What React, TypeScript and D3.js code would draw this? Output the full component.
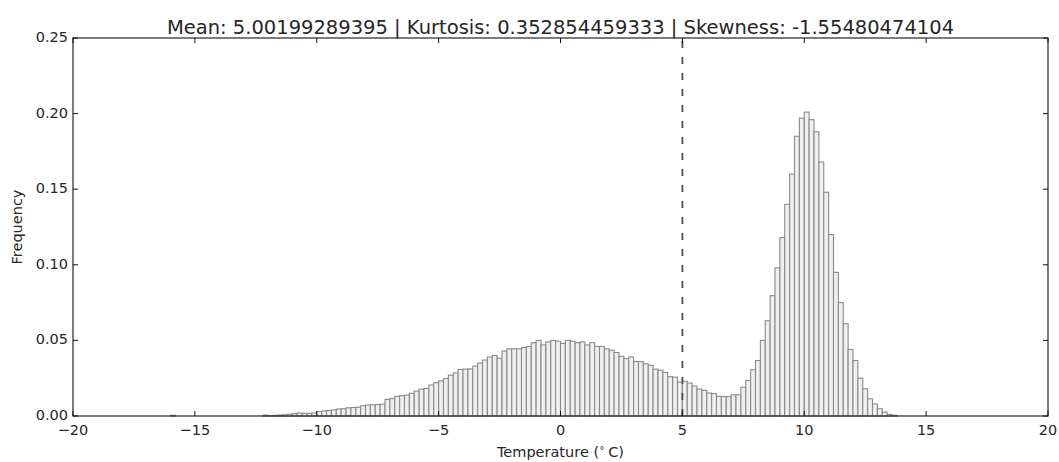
import React from "react";
import * as d3 from "d3";

// Histogram of temperatures: normalised frequency per 0.2 °C bin, starting at -16 °C
const BIN_START = -16.0;
const BIN_WIDTH = 0.2;
const frequency: number[] = [
  // -16.0 .. -14.2
  0.0005, 0, 0, 0, 0, 0, 0, 0, 0, 0,
  // -14.0 .. -12.2
  0, 0, 0, 0, 0, 0, 0, 0, 0, 0.0006,
  // -12.0 .. -10.2
  0.0002, 0.0004, 0.0006, 0.0008, 0.0012, 0.0016, 0.002, 0.0018, 0.0017, 0.002,
  // -10.0 .. -8.2
  0.003, 0.0033, 0.0036, 0.004, 0.0046, 0.0048, 0.0054, 0.0056, 0.0058, 0.0068,
  // -8.0 .. -6.2
  0.0072, 0.0074, 0.0076, 0.0078, 0.011, 0.0116, 0.013, 0.0134, 0.0138, 0.015,
  // -6.0 .. -4.2
  0.0165, 0.0178, 0.0182, 0.0205, 0.022, 0.0232, 0.0248, 0.027, 0.0285, 0.0308,
  // -4.0 .. -2.2
  0.031, 0.0311, 0.033, 0.035, 0.037, 0.039, 0.04, 0.0382, 0.043, 0.0444,
  // -2.0 .. -0.2
  0.0445, 0.0444, 0.0453, 0.046, 0.0484, 0.05, 0.047, 0.049, 0.05, 0.0495,
  // 0.0 .. 1.8
  0.048, 0.05, 0.0495, 0.0485, 0.049, 0.047, 0.0485, 0.046, 0.046, 0.0444,
  // 2.0 .. 3.8
  0.0435, 0.042, 0.0395, 0.038, 0.039, 0.036, 0.036, 0.0345, 0.0335, 0.031,
  // 4.0 .. 5.8
  0.0303, 0.0288, 0.026, 0.0257, 0.0224, 0.023, 0.0218, 0.0198, 0.0178, 0.017,
  // 6.0 .. 7.8
  0.0152, 0.0148, 0.013, 0.0128, 0.0128, 0.014, 0.014, 0.019, 0.0235, 0.0306,
  // 8.0 .. 9.8
  0.0367, 0.05, 0.063, 0.0796, 0.098, 0.118, 0.14, 0.16, 0.185, 0.197,
  // 10.0 .. 11.8
  0.201, 0.196, 0.188, 0.168, 0.148, 0.12, 0.095, 0.075, 0.061, 0.044,
  // 12.0 .. 13.8
  0.0367, 0.025, 0.018, 0.0114, 0.008, 0.0048, 0.0026, 0.0011, 0.0005, 0,
];

const meanValue = 5.00199289395;
const kurtosisValue = "0.352854459333";
const skewnessValue = "-1.55480474104";
const meanLabel = "5.00199289395";

const X_TICKS = [-20, -15, -10, -5, 0, 5, 10, 15, 20];
const Y_TICKS = [0, 0.05, 0.1, 0.15, 0.2, 0.25];

const X_LABEL = "Temperature (";
const Y_LABEL = "Frequency";

const WIDTH = 1059;
const HEIGHT = 462;
const margin = { left: 73, right: 11, top: 38, bottom: 46 };
const FONT = "'DejaVu Sans', 'Liberation Sans', sans-serif";
const TEXT = "#262626";

export default function App() {
  const x = d3
    .scaleLinear()
    .domain([-20, 20])
    .range([margin.left, WIDTH - margin.right]);
  const y = d3
    .scaleLinear()
    .domain([0, 0.25])
    .range([HEIGHT - margin.bottom, margin.top]);

  const x0 = x.range()[0];
  const x1 = x.range()[1];
  const yBottom = y.range()[0];
  const yTop = y.range()[1];
  const tickLen = 5;

  const fmtX = (v: number) => (v < 0 ? "\u2212" + Math.abs(v) : String(v));
  const fmtY = d3.format(".2f");

  const bins = frequency
    .map((f, i) => ({ left: BIN_START + i * BIN_WIDTH, f }))
    .filter((b) => b.f > 0);

  return (
    <svg
      width={WIDTH}
      height={HEIGHT}
      style={{ position: "absolute", left: 0, top: 0, background: "#fff" }}
      fontFamily={FONT}
    >
      <rect x={0} y={0} width={WIDTH} height={HEIGHT} fill="#fff" />

      {/* histogram bars */}
      <g>
        {bins.map((b, i) => {
          const bx = x(b.left);
          const bw = x(b.left + BIN_WIDTH) - bx;
          const by = y(b.f);
          return (
            <rect
              key={i}
              x={bx}
              y={by}
              width={bw}
              height={yBottom - by}
              fill="#efefef"
              stroke="#8a8a8a"
              strokeWidth={1.1}
            />
          );
        })}
      </g>

      {/* mean marker */}
      <line
        x1={x(meanValue)}
        x2={x(meanValue)}
        y1={yBottom}
        y2={yTop}
        stroke="#4d4d4d"
        strokeWidth={1.8}
        strokeDasharray="7,9"
      />

      {/* frame */}
      <rect
        x={x0}
        y={yTop}
        width={x1 - x0}
        height={yBottom - yTop}
        fill="none"
        stroke="#111"
        strokeWidth={1.1}
      />

      {/* x ticks, inward on bottom and top */}
      <g stroke="#111" strokeWidth={1}>
        {X_TICKS.map((t) => (
          <g key={"xt" + t}>
            <line x1={x(t)} x2={x(t)} y1={yBottom} y2={yBottom - tickLen} />
            <line x1={x(t)} x2={x(t)} y1={yTop} y2={yTop + tickLen} />
          </g>
        ))}
        {Y_TICKS.map((t) => (
          <g key={"yt" + t}>
            <line x1={x0} x2={x0 + tickLen} y1={y(t)} y2={y(t)} />
            <line x1={x1} x2={x1 - tickLen} y1={y(t)} y2={y(t)} />
          </g>
        ))}
      </g>

      {/* tick labels */}
      <g fill={TEXT} fontSize={14.5}>
        {X_TICKS.map((t) => (
          <text key={"xl" + t} x={x(t)} y={yBottom + 19} textAnchor="middle">
            {fmtX(t)}
          </text>
        ))}
        {Y_TICKS.map((t) => (
          <text
            key={"yl" + t}
            x={x0 - 5}
            y={y(t) - 1}
            textAnchor="end"
            dominantBaseline="central"
          >
            {fmtY(t)}
          </text>
        ))}
      </g>

      {/* axis labels */}
      <text
        x={(x0 + x1) / 2}
        y={457}
        textAnchor="middle"
        fill={TEXT}
        fontSize={14.5}
      >
        {X_LABEL}
        <tspan fontSize={10} dy={-6}>
          {"\u2218"}
        </tspan>
        <tspan dy={6}>{"\u2009C)"}</tspan>
      </text>
      <text
        transform={`translate(22,${(yTop + yBottom) / 2}) rotate(-90)`}
        textAnchor="middle"
        fill={TEXT}
        fontSize={14.5}
      >
        {Y_LABEL}
      </text>

      {/* title */}
      <text
        x={(x0 + x1) / 2}
        y={34}
        textAnchor="middle"
        fill={TEXT}
        fontSize={19.5}
      >
        {`Mean: ${meanLabel} | Kurtosis: ${kurtosisValue} | Skewness: ${skewnessValue}`}
      </text>
    </svg>
  );
}
